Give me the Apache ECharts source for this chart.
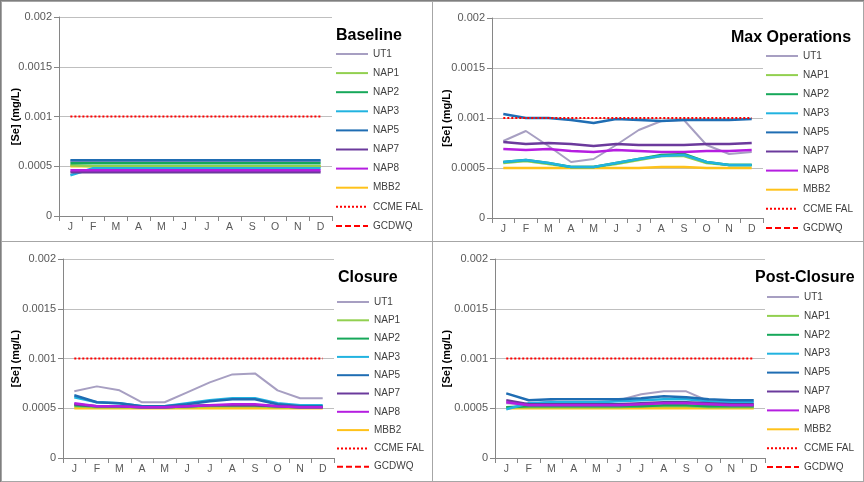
<!DOCTYPE html>
<html>
<head>
<meta charset="utf-8">
<script src="https://cdn.jsdelivr.net/npm/echarts@6/dist/echarts.min.js"></script>
<style>
  body { margin: 0; background: #fff; }
  #wrap { position: relative; width: 864px; height: 482px; box-sizing: border-box; border: 1px solid #7f7f7f; }
  .panel { position: absolute; width: 432px; height: 241px; box-sizing: border-box; border: 1px solid #a6a6a6; }
</style>
</head>
<body>
<div id="wrap">
  <div class="panel" id="p1" style="left:0;top:0"></div>
  <div class="panel" id="p2" style="left:431px;top:0"></div>
  <div class="panel" id="p3" style="left:0;top:240px"></div>
  <div class="panel" id="p4" style="left:431px;top:240px"></div>
</div>
<script>
const months = ['J', 'F', 'M', 'A', 'M', 'J', 'J', 'A', 'S', 'O', 'N', 'D']
const sites = ['UT1', 'NAP1', 'NAP2', 'NAP3', 'NAP5', 'NAP7', 'NAP8', 'MBB2', 'CCME FAL', 'GCDWQ']

// Baseline
const baseUT1 = [0.00055, 0.00055, 0.00055, 0.00055, 0.00055, 0.00055, 0.00055, 0.00055, 0.00055, 0.00055, 0.00055, 0.00055]
const baseNAP1 = [0.00051, 0.0005, 0.0005, 0.0005, 0.0005, 0.0005, 0.0005, 0.0005, 0.0005, 0.0005, 0.0005, 0.0005]
const baseNAP2 = [0.00053, 0.00053, 0.00053, 0.00053, 0.00053, 0.00053, 0.00053, 0.00053, 0.00053, 0.00053, 0.00053, 0.00053]
const baseNAP3 = [0.00041, 0.00048, 0.00048, 0.00048, 0.00048, 0.00048, 0.00048, 0.00048, 0.00048, 0.00048, 0.00048, 0.00048]
const baseNAP5 = [0.00056, 0.00056, 0.00056, 0.00056, 0.00056, 0.00056, 0.00056, 0.00056, 0.00056, 0.00056, 0.00056, 0.00056]
const baseNAP7 = [0.00044, 0.00044, 0.00044, 0.00044, 0.00044, 0.00044, 0.00044, 0.00044, 0.00044, 0.00044, 0.00044, 0.00044]
const baseNAP8 = [0.00046, 0.00046, 0.00046, 0.00046, 0.00046, 0.00046, 0.00046, 0.00046, 0.00046, 0.00046, 0.00046, 0.00046]
const baseMBB2 = [0.0005, 0.0005, 0.0005, 0.0005, 0.0005, 0.0005, 0.0005, 0.0005, 0.0005, 0.0005, 0.0005, 0.0005]

// Max Operations
const maxUT1 = [0.00077, 0.00087, 0.00072, 0.00056, 0.00059, 0.00073, 0.00088, 0.00097, 0.00098, 0.00073, 0.00064, 0.00066]
const maxNAP1 = [0.00055, 0.00057, 0.00054, 0.00051, 0.00051, 0.00054, 0.00058, 0.00062, 0.00062, 0.00055, 0.00053, 0.00053]
const maxNAP2 = [0.00056, 0.00058, 0.00055, 0.00051, 0.00051, 0.00055, 0.00059, 0.00063, 0.00064, 0.00056, 0.00053, 0.00053]
const maxNAP3 = [0.00056, 0.00058, 0.00055, 0.00051, 0.00051, 0.00055, 0.00059, 0.00062, 0.00063, 0.00056, 0.00053, 0.00053]
const maxNAP5 = [0.00104, 0.001, 0.001, 0.00098, 0.00095, 0.00099, 0.00098, 0.00097, 0.00098, 0.00098, 0.00098, 0.00099]
const maxNAP7 = [0.00076, 0.00074, 0.00075, 0.00074, 0.00072, 0.00074, 0.00073, 0.00073, 0.00073, 0.00074, 0.00074, 0.00075]
const maxNAP8 = [0.00069, 0.00068, 0.00069, 0.00067, 0.00066, 0.00068, 0.00067, 0.00066, 0.00066, 0.00067, 0.00067, 0.00068]
const maxMBB2 = [0.0005, 0.0005, 0.0005, 0.0005, 0.0005, 0.0005, 0.0005, 0.00051, 0.00051, 0.0005, 0.0005, 0.0005]

// Closure
const closUT1 = [0.00067, 0.00072, 0.00068, 0.00056, 0.00056, 0.00066, 0.00076, 0.00084, 0.00085, 0.00068, 0.0006, 0.0006]
const closNAP1 = [0.00052, 0.00051, 0.00051, 0.00051, 0.00051, 0.00051, 0.00052, 0.00052, 0.00052, 0.00051, 0.00051, 0.00051]
const closNAP2 = [0.00053, 0.00052, 0.00052, 0.00051, 0.00051, 0.00052, 0.00053, 0.00053, 0.00053, 0.00052, 0.00051, 0.00051]
const closNAP3 = [0.00061, 0.00056, 0.00055, 0.00052, 0.00052, 0.00055, 0.00058, 0.0006, 0.0006, 0.00055, 0.00053, 0.00053]
const closNAP5 = [0.00063, 0.00056, 0.00055, 0.00052, 0.00052, 0.00054, 0.00057, 0.00059, 0.00059, 0.00054, 0.00052, 0.00052]
const closNAP7 = [0.00054, 0.00052, 0.00052, 0.00051, 0.00051, 0.00052, 0.00053, 0.00053, 0.00053, 0.00052, 0.00051, 0.00051]
const closNAP8 = [0.00055, 0.00052, 0.00052, 0.00051, 0.00051, 0.00052, 0.00053, 0.00054, 0.00054, 0.00052, 0.00051, 0.00051]
const closMBB2 = [0.0005, 0.0005, 0.0005, 0.0005, 0.0005, 0.0005, 0.0005, 0.0005, 0.0005, 0.0005, 0.0005, 0.0005]

// Post-Closure
const postUT1 = [0.00055, 0.00054, 0.00057, 0.00054, 0.00054, 0.00058, 0.00064, 0.00067, 0.00067, 0.00057, 0.00054, 0.00054]
const postNAP1 = [0.00051, 0.00051, 0.00051, 0.00051, 0.00051, 0.00051, 0.00052, 0.00052, 0.00052, 0.00051, 0.00051, 0.00051]
const postNAP2 = [0.00051, 0.00052, 0.00052, 0.00052, 0.00052, 0.00052, 0.00052, 0.00053, 0.00053, 0.00052, 0.00052, 0.00052]
const postNAP3 = [0.00049, 0.00055, 0.00056, 0.00056, 0.00056, 0.00057, 0.00058, 0.00059, 0.00059, 0.00057, 0.00056, 0.00056]
const postNAP5 = [0.00065, 0.00058, 0.00059, 0.00059, 0.00059, 0.00059, 0.0006, 0.00062, 0.00061, 0.00059, 0.00058, 0.00058]
const postNAP7 = [0.00058, 0.00054, 0.00054, 0.00054, 0.00054, 0.00054, 0.00055, 0.00056, 0.00056, 0.00055, 0.00054, 0.00054]
const postNAP8 = [0.00056, 0.00053, 0.00053, 0.00053, 0.00053, 0.00053, 0.00054, 0.00055, 0.00055, 0.00054, 0.00053, 0.00053]
const postMBB2 = [0.0005, 0.0005, 0.0005, 0.0005, 0.0005, 0.0005, 0.0005, 0.0005, 0.0005, 0.0005, 0.0005, 0.0005]

// guidelines
const ccmeFal = [0.001, 0.001, 0.001, 0.001, 0.001, 0.001, 0.001, 0.001, 0.001, 0.001, 0.001, 0.001]
const gcdwq = [0.05, 0.05, 0.05, 0.05, 0.05, 0.05, 0.05, 0.05, 0.05, 0.05, 0.05, 0.05]

const styles = {
  UT1: { color: '#A79FC2', width: 2 },
  NAP1: { color: '#92D050', width: 2.5 },
  NAP2: { color: '#17A85A', width: 2.5 },
  NAP3: { color: '#21B3E0', width: 2.5 },
  NAP5: { color: '#1F6DB3', width: 2.5 },
  NAP7: { color: '#6B3A9C', width: 2.5 },
  NAP8: { color: '#B51EE0', width: 2.5 },
  MBB2: { color: '#FFC21A', width: 2.5 },
  'CCME FAL': { color: '#FF0000', width: 2, type: [2, 2] },
  GCDWQ: { color: '#FF0000', width: 2.5, type: [6, 3] }
}
// draw order (later on top)
const drawOrder = ['UT1', 'MBB2', 'NAP1', 'NAP2', 'NAP3', 'NAP5', 'NAP7', 'NAP8', 'CCME FAL', 'GCDWQ']

function makePanel (id, title, vals, lay) {
  const chart = echarts.init(document.getElementById(id))
  const lookup = {
    UT1: vals[0], NAP1: vals[1], NAP2: vals[2], NAP3: vals[3],
    NAP5: vals[4], NAP7: vals[5], NAP8: vals[6], MBB2: vals[7],
    'CCME FAL': ccmeFal, GCDWQ: gcdwq
  }
  const option = {
    animation: false,
    textStyle: { fontFamily: 'Liberation Sans, Arial, sans-serif' },
    title: {
      text: title,
      left: lay.titleLeft,
      top: lay.titleTop,
      padding: 0,
      textStyle: { fontSize: 16, fontWeight: 'bold', color: '#000' }
    },
    legend: {
      data: sites,
      orient: 'vertical',
      left: lay.legLeft,
      top: lay.legTop,
      height: 225,
      padding: 0,
      itemWidth: 32,
      itemHeight: 10,
      itemGap: lay.legGap,
      itemStyle: { opacity: 0 },
      textStyle: { fontSize: 10, color: '#404040' }
    },
    grid: {
      left: lay.left,
      right: lay.right,
      top: lay.top,
      bottom: lay.bottom,
      outerBoundsMode: 'none',
      containLabel: false
    },
    xAxis: {
      type: 'category',
      data: months,
      boundaryGap: true,
      axisLine: { lineStyle: { color: '#868686' } },
      axisTick: { show: true, length: 5, lineStyle: { color: '#868686' } },
      axisLabel: { fontSize: 10.5, color: '#595959', margin: 6 }
    },
    yAxis: {
      type: 'value',
      min: 0,
      max: 0.002,
      interval: 0.0005,
      name: '[Se] (mg/L)',
      nameLocation: 'middle',
      nameRotate: 90,
      nameGap: lay.nameGap,
      nameMoveOverlap: false,
      nameTextStyle: { fontSize: 11, fontWeight: 'bold', color: '#000' },
      axisLine: { show: true, lineStyle: { color: '#868686' } },
      axisTick: { show: true, length: 5, lineStyle: { color: '#868686' } },
      axisLabel: {
        fontSize: 11,
        color: '#595959',
        margin: 7,
        formatter: v => String(+v.toFixed(4))
      },
      splitLine: { lineStyle: { color: '#BFBFBF' } }
    },
    series: drawOrder.map(name => ({
      name: name,
      type: 'line',
      data: lookup[name],
      symbol: 'none',
      clip: true,
      itemStyle: { color: styles[name].color },
      lineStyle: {
        color: styles[name].color,
        width: styles[name].width,
        type: styles[name].type || 'solid'
      }
    }))
  }
  chart.setOption(option)
  return chart
}

makePanel('p1', 'Baseline',
  [baseUT1, baseNAP1, baseNAP2, baseNAP3, baseNAP5, baseNAP7, baseNAP8, baseMBB2],
  { left: 57, right: 100, top: 15, bottom: 25, titleLeft: 334, titleTop: 26, legLeft: 333, legTop: 47, legGap: 9.1, nameGap: 38 })
makePanel('p2', 'Max Operations',
  [maxUT1, maxNAP1, maxNAP2, maxNAP3, maxNAP5, maxNAP7, maxNAP8, maxMBB2],
  { left: 59, right: 100, top: 16, bottom: 23, titleLeft: 298, titleTop: 28, legLeft: 332, legTop: 49, legGap: 9.1, nameGap: 40 })
makePanel('p3', 'Closure',
  [closUT1, closNAP1, closNAP2, closNAP3, closNAP5, closNAP7, closNAP8, closMBB2],
  { left: 61, right: 98, top: 17, bottom: 23, titleLeft: 336, titleTop: 28, legLeft: 334, legTop: 55, legGap: 8.3, nameGap: 42 })
makePanel('p4', 'Post-Closure',
  [postUT1, postNAP1, postNAP2, postNAP3, postNAP5, postNAP7, postNAP8, postMBB2],
  { left: 62, right: 98, top: 17, bottom: 23, titleLeft: 322, titleTop: 28, legLeft: 333, legTop: 50, legGap: 8.9, nameGap: 43 })
</script>
</body>
</html>
